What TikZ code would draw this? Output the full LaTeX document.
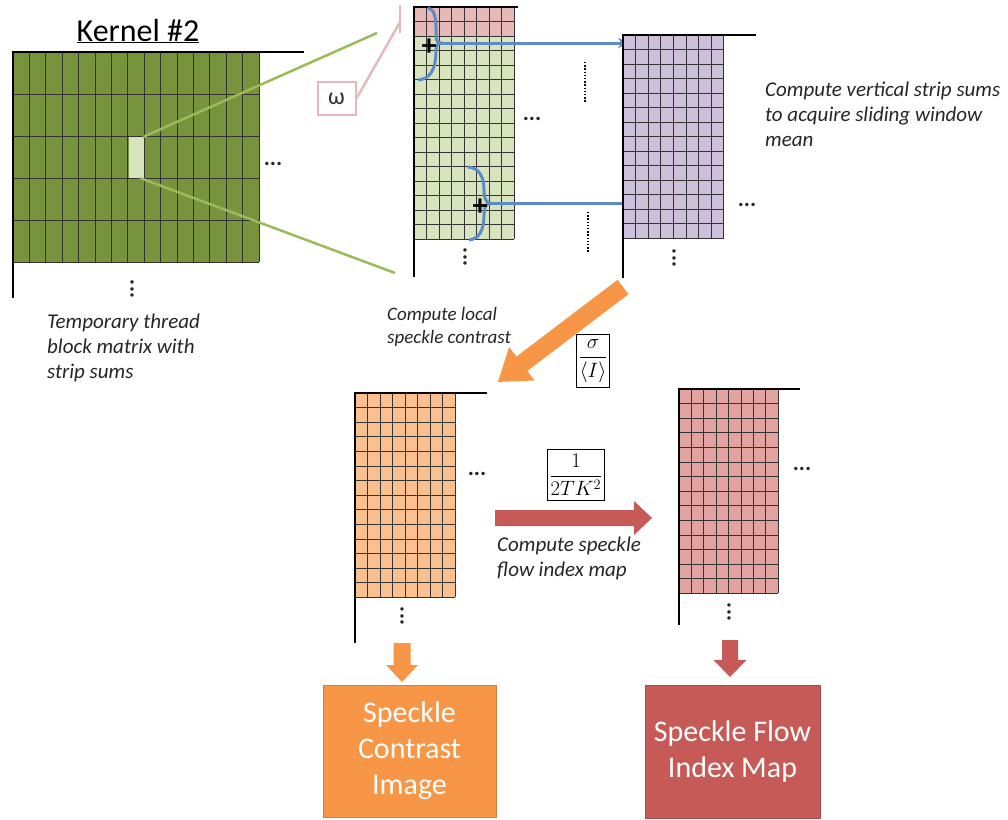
\documentclass[tikz,border=0pt]{standalone}
\usepackage{fontspec}
\setmainfont{Carlito}
\usetikzlibrary{arrows.meta}
\definecolor{olive}{HTML}{77933C}
\definecolor{oliveL}{HTML}{9BBB59}
\definecolor{cellL}{HTML}{D7E4BD}
\definecolor{pinkT}{HTML}{E6B9B8}
\definecolor{purp}{HTML}{CCC0DA}
\definecolor{orgL}{HTML}{FAC090}
\definecolor{redL}{HTML}{E3A3A1}
\definecolor{org}{HTML}{F79646}
\definecolor{redA}{HTML}{C65A56}
\definecolor{blu}{HTML}{5B8BC8}
\newcommand{\cgrid}[7]{%
  \fill[#7] (#1,#2) rectangle ({#1+#3*#5},{#2+#4*#6});
  \foreach \k in {0,...,#3} \draw[gridline] ({#1+\k*#5},#2) -- ({#1+\k*#5},{#2+#4*#6});
  \foreach \k in {0,...,#4} \draw[gridline] (#1,{#2+\k*#6}) -- ({#1+#3*#5},{#2+\k*#6});
}
\newcommand{\blockarrow}[7]{%
  \fill[#1,shift={(#2)},rotate=#3] (0,{-#5/2}) -- ({#4-#7},{-#5/2}) -- ({#4-#7},{-#6/2}) -- (#4,0) -- ({#4-#7},{#6/2}) -- ({#4-#7},{#5/2}) -- (0,{#5/2}) -- cycle;}
\begin{document}
\begin{tikzpicture}[x=1pt,y=-1pt]
\tikzset{
  axis/.style={line width=2pt, black},
  gridline/.style={line width=0.7pt, black!80},
  note/.style={font=\fontsize{21}{25}\selectfont\itshape, text=black!85, align=left, inner sep=0pt, anchor=north west},
  fbox/.style={draw, line width=1pt, inner xsep=2pt, inner ysep=5pt, font=\fontsize{21}{24}\selectfont},
  result/.style={font=\fontsize{30}{36}\selectfont, text=white, align=center, inner sep=0pt, line width=1pt},
  zoomline/.style={oliveL, line width=2.5pt},
  bluarrow/.style={draw=blu, line width=3pt, -{Stealth[length=11pt,width=10pt]}},
  brace/.style={draw=blu, line width=3pt},
  plus/.style={font=\fontsize{30}{30}\selectfont\bfseries, inner sep=0pt},
  hdots/.style={font=\fontsize{23}{23}\selectfont\bfseries, text=black!85, inner sep=0pt},
  vdots/.style={hdots, rotate=90},
}
\useasboundingbox (0,0) rectangle (1008,819);
\fill[white] (0,0) rectangle (1008,819);

% ---- left matrix (Kernel #2)
\node[font=\fontsize{32}{34}\selectfont] (title) at (138,31) {\underline{Kernel \#2}};
\cgrid{13}{52}{15}{5}{16.4}{42}{olive}
\fill[cellL] (128.5,137) rectangle (143.5,177.5);
\draw[axis] (304,52) -- (13,52) -- (13,298);
\node[hdots] (ld1) at (273,164) {...};
\node[vdots] (ld2) at (132,289) {...};
\node[note] (tmp) at (47,314) {Temporary thread\\block matrix with\\strip sums};

% ---- middle matrix
\cgrid{414}{7}{8}{2}{12.5}{14.5}{pinkT}
\cgrid{414}{36}{8}{14}{12.5}{14.5}{cellL}
\draw[axis] (518,7) -- (414,7) -- (414,277);
\node[hdots] (md1) at (532,119) {...};
\node[vdots] (md2) at (465,257) {...};

% zoom lines
\coordinate (cellT) at (143,137);
\coordinate (cellB) at (140,178);
\coordinate (zT) at (377,33);
\coordinate (zB) at (395,273);
\draw[zoomline] (cellT) -- (zT);
\draw[zoomline] (cellB) -- (zB);

% omega
\node[draw=pinkT, line width=2pt, minimum width=38, minimum height=33, font=\fontsize{24}{24}\selectfont, text=black!80, inner sep=0pt] (omega) at (336.5,98.5) {ω};
\coordinate (wT) at (400,5);
\coordinate (wB) at (400,33);
\coordinate (wM) at (400,22);
\draw[pinkT, line width=2.4pt] (wT) -- (wB);
\draw[pinkT, line width=2.4pt] (omega.east) -- (wM);

% braces and blue arrows
\draw[brace] (428,8) .. controls (437,10) and (436,25) .. (436,36) .. controls (436,41) and (438,43) .. (441,43) .. controls (438,43) and (436,45) .. (436,50) .. controls (436,70) and (430,79) .. (418,80);
\draw[brace] (468,167) .. controls (480,168) and (484,178) .. (484,190) .. controls (484,198) and (486,203) .. (490,203) .. controls (486,203) and (484,208) .. (484,215) .. controls (484,232) and (478,239) .. (469,240);
\node[plus] (p1) at (429,47) {+};
\node[plus] (p2) at (480,207) {+};
\coordinate (b1) at (441,43);
\coordinate (b1e) at (629,43);
\coordinate (b2) at (490,203);
\coordinate (b2e) at (679,203);
\draw[bluarrow] (b1) -- (b1e);
\draw[bluarrow] (b2) -- (b2e);
\draw[line width=1.8pt, dash pattern=on 1.4pt off 1.8pt] (585,62) -- (585,102);
\draw[line width=1.8pt, dash pattern=on 1.4pt off 1.8pt] (588,212) -- (588,252);

% ---- purple matrix
\cgrid{623}{35}{8}{14}{12.6}{14.5}{purp}
\draw[axis] (756,35) -- (623,35) -- (623,278);
\node[hdots] (pd1) at (747,205) {...};
\node[vdots] (pd2) at (674,258) {...};
\node[note] (vs) at (765,82) {Compute vertical strip sums\\to acquire sliding window\\mean};

% ---- orange arrow + label
\blockarrow{org}{623,287}{217.2}{157}{18}{42}{30}
\node[note, font=\fontsize{19}{23}\selectfont\itshape] (lc) at (387,307) {Compute local\\speckle contrast};
\node[fbox] (f1) at (593,361) {$\displaystyle\frac{\sigma}{\langle I\rangle}$};

% ---- orange matrix
\cgrid{355}{393}{8}{14}{12.5}{14.6}{orgL}
\draw[axis] (487,393) -- (355,393) -- (355,643);
\node[hdots] (od1) at (477,474) {...};
\node[vdots] (od2) at (402,616) {...};

% ---- red arrow + label
\blockarrow{redA}{495,518}{0}{157}{16}{34}{18}
\node[fbox] (f2) at (576,475) {$\displaystyle\frac{1}{2TK^{2}}$};
\node[note] (sf) at (497,537) {Compute speckle\\flow index map};

% ---- red matrix
\cgrid{679}{389}{8}{14}{12.4}{14.6}{redL}
\draw[axis] (800,389) -- (679,389) -- (679,625);
\node[hdots] (rd1) at (802,469) {...};
\node[vdots] (rd2) at (729,612) {...};

% ---- down arrows and result boxes
\blockarrow{org}{402,643}{-90}{39}{17}{32}{17}
\blockarrow{redA}{730,640}{-90}{37}{16}{33}{17}
\node[result, fill=org, draw=org!85!black, minimum width=173, minimum height=132] (sci) at (409.5,751) {Speckle\\Contrast\\Image};
\node[result, fill=redA, draw=redA!85!black, minimum width=175, minimum height=133] (sfi) at (732.5,751.5) {Speckle Flow\\Index Map};
\end{tikzpicture}
\end{document}
